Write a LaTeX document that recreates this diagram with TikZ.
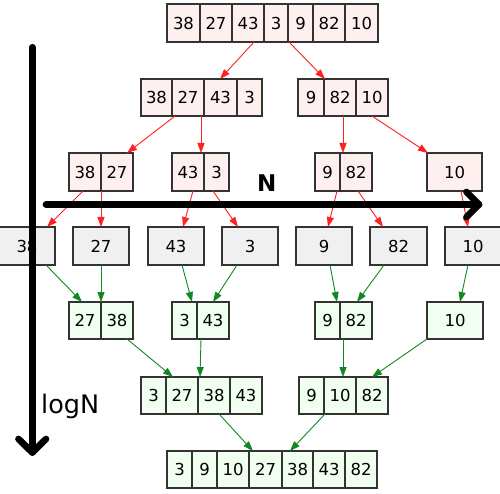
\documentclass[tikz,border=0pt]{standalone}
\usepackage{fontspec}
\setmainfont{DejaVu Sans}
\usetikzlibrary{arrows.meta}
\definecolor{splitfill}{HTML}{FFF0F0}
\definecolor{leaffill}{HTML}{F0F0F0}
\definecolor{mergefill}{HTML}{F0FFF0}
\definecolor{cellborder}{HTML}{333333}
\definecolor{splitline}{HTML}{FF2020}
\definecolor{mergeline}{HTML}{118822}
\newcommand{\mkcell}[7]{\node[cell,#1,minimum width={((#4)-(#3))*1pt},minimum height={((#6)-(#5))*1pt}] (#2) at ({((#3)+(#4))/2},{((#5)+(#6))/2}) {#7};}
\newcommand{\mkedge}[5]{\draw[#1] ([xshift=#3pt]#2.south) -- ([xshift=#5pt]#4.north);}
\begin{document}
\begin{tikzpicture}[x=1pt,y=-1pt,
  cell/.style={draw=cellborder,line width=1.1pt,inner sep=0pt,outer sep=0pt,
    font=\fontsize{16.5}{19}\selectfont},
  splitbox/.style={fill=splitfill},
  leafbox/.style={fill=leaffill},
  mergebox/.style={fill=mergefill},
  splitedge/.style={draw=splitline,line width=0.9pt,-{Triangle[length=10pt,width=7pt]}},
  mergeedge/.style={draw=mergeline,line width=0.9pt,-{Triangle[length=10pt,width=7pt]}},
  axis/.style={line width=6.7pt,line cap=round,line join=round,draw=black}]
\useasboundingbox[fill=white] (0,0) rectangle (500,494);
% row 1
\mkcell{splitbox}{r1c1}{167}{200}{4}{42}{38}
\mkcell{splitbox}{r1c2}{200}{232}{4}{42}{27}
\mkcell{splitbox}{r1c3}{232}{264}{4}{42}{43}
\mkcell{splitbox}{r1c4}{264}{288}{4}{42}{3}
\mkcell{splitbox}{r1c5}{288}{313}{4}{42}{9}
\mkcell{splitbox}{r1c6}{313}{345}{4}{42}{82}
\mkcell{splitbox}{r1c7}{345}{378}{4}{42}{10}
% row 2
\mkcell{splitbox}{r2a1}{141}{172}{79}{116}{38}
\mkcell{splitbox}{r2a2}{172}{204}{79}{116}{27}
\mkcell{splitbox}{r2a3}{204}{237}{79}{116}{43}
\mkcell{splitbox}{r2a4}{237}{262}{79}{116}{3}
\mkcell{splitbox}{r2b1}{298}{324}{79}{116}{9}
\mkcell{splitbox}{r2b2}{324}{356}{79}{116}{82}
\mkcell{splitbox}{r2b3}{356}{388}{79}{116}{10}
% row 3
\mkcell{splitbox}{r3a1}{69}{101}{153}{191}{38}
\mkcell{splitbox}{r3a2}{101}{133}{153}{191}{27}
\mkcell{splitbox}{r3b1}{172}{204}{153}{191}{43}
\mkcell{splitbox}{r3b2}{204}{229}{153}{191}{3}
\mkcell{splitbox}{r3c1}{315}{340}{153}{191}{9}
\mkcell{splitbox}{r3c2}{340}{372}{153}{191}{82}
\mkcell{splitbox}{r3d}{427}{482}{153}{191}{10}
% row 4
\mkcell{leafbox}{r4a}{-1}{55}{227}{265}{38}
\mkcell{leafbox}{r4b}{73}{129}{227}{265}{27}
\mkcell{leafbox}{r4c}{148}{204}{227}{265}{43}
\mkcell{leafbox}{r4d}{222}{278}{227}{265}{3}
\mkcell{leafbox}{r4e}{296}{352}{227}{265}{9}
\mkcell{leafbox}{r4f}{370}{427}{227}{265}{82}
\mkcell{leafbox}{r4g}{445}{501}{227}{265}{10}
% row 5
\mkcell{mergebox}{r5a1}{69}{101}{302}{339}{27}
\mkcell{mergebox}{r5a2}{101}{133}{302}{339}{38}
\mkcell{mergebox}{r5b1}{172}{197}{302}{339}{3}
\mkcell{mergebox}{r5b2}{197}{229}{302}{339}{43}
\mkcell{mergebox}{r5c1}{315}{340}{302}{339}{9}
\mkcell{mergebox}{r5c2}{340}{372}{302}{339}{82}
\mkcell{mergebox}{r5d}{427}{483}{302}{339}{10}
% row 6
\mkcell{mergebox}{r6a1}{141}{166}{377}{414}{3}
\mkcell{mergebox}{r6a2}{166}{198}{377}{414}{27}
\mkcell{mergebox}{r6a3}{198}{230}{377}{414}{38}
\mkcell{mergebox}{r6a4}{230}{262}{377}{414}{43}
\mkcell{mergebox}{r6b1}{299}{324}{377}{414}{9}
\mkcell{mergebox}{r6b2}{324}{356}{377}{414}{10}
\mkcell{mergebox}{r6b3}{356}{388}{377}{414}{82}
% row 7
\mkcell{mergebox}{r7c1}{167}{192}{451}{488}{3}
\mkcell{mergebox}{r7c2}{192}{217}{451}{488}{9}
\mkcell{mergebox}{r7c3}{217}{249}{451}{488}{10}
\mkcell{mergebox}{r7c4}{249}{282}{451}{488}{27}
\mkcell{mergebox}{r7c5}{282}{313}{451}{488}{38}
\mkcell{mergebox}{r7c6}{313}{345}{451}{488}{43}
\mkcell{mergebox}{r7c7}{345}{377}{451}{488}{82}
% split edges
\mkedge{splitedge}{r1c3}{6}{r2a3}{-0.5}
\mkedge{splitedge}{r1c5}{-11.5}{r2b2}{-15}
\mkedge{splitedge}{r2a2}{-13}{r3a2}{10}
\mkedge{splitedge}{r2a2}{13}{r3b1}{13}
\mkedge{splitedge}{r2b2}{3}{r3c2}{-13}
\mkedge{splitedge}{r2b3}{0}{r3d}{-26.5}
\mkedge{splitedge}{r3a1}{-2}{r4a}{20}
\mkedge{splitedge}{r3a2}{-16}{r4b}{0}
\mkedge{splitedge}{r3b1}{5}{r4c}{7}
\mkedge{splitedge}{r3b2}{-3.5}{r4d}{-12}
\mkedge{splitedge}{r3c1}{9.5}{r4e}{4}
\mkedge{splitedge}{r3c2}{2}{r4f}{-15.5}
\mkedge{splitedge}{r3d}{6.5}{r4g}{-5}
% merge edges
\mkedge{mergeedge}{r4a}{19}{r5a1}{-3}
\mkedge{mergeedge}{r4b}{0}{r5a2}{-16}
\mkedge{mergeedge}{r4c}{6}{r5b1}{7.5}
\mkedge{mergeedge}{r4d}{-13}{r5b2}{0}
\mkedge{mergeedge}{r4e}{6}{r5c1}{9.5}
\mkedge{mergeedge}{r4f}{-14.5}{r5c2}{1}
\mkedge{mergeedge}{r4g}{-5}{r5d}{5}
\mkedge{mergeedge}{r5a2}{10}{r6a2}{-9}
\mkedge{mergeedge}{r5b2}{-12}{r6a3}{-14}
\mkedge{mergeedge}{r5c2}{-13}{r6b2}{3}
\mkedge{mergeedge}{r5d}{-28}{r6b3}{0}
\mkedge{mergeedge}{r6a3}{5}{r7c4}{-12.5}
\mkedge{mergeedge}{r6b2}{-15}{r7c5}{-7.5}
% axes
\coordinate (vtop) at (32.3,47.3);
\coordinate (vbot) at (32.3,452.5);
\coordinate (vl) at (18.5,439);
\coordinate (vr) at (46,439);
\coordinate (hl) at (46,204.5);
\coordinate (hr) at (479,204.5);
\coordinate (hu) at (466.5,192);
\coordinate (hd) at (466.5,217);
\draw[axis] (vtop) -- (vbot);
\draw[axis] (vl) -- (vbot) -- (vr);
\draw[axis] (hl) -- (hr);
\draw[axis] (hu) -- (hr) -- (hd);
\node[anchor=base,inner sep=0pt,font=\fontsize{23}{26}\selectfont\bfseries] (nlabel) at (266.7,191.7) {N};
\node[anchor=base west,inner sep=0pt,font=\fontsize{25.5}{30}\selectfont] (loglabel) at (41,413.5) {logN};
\end{tikzpicture}
\end{document}
